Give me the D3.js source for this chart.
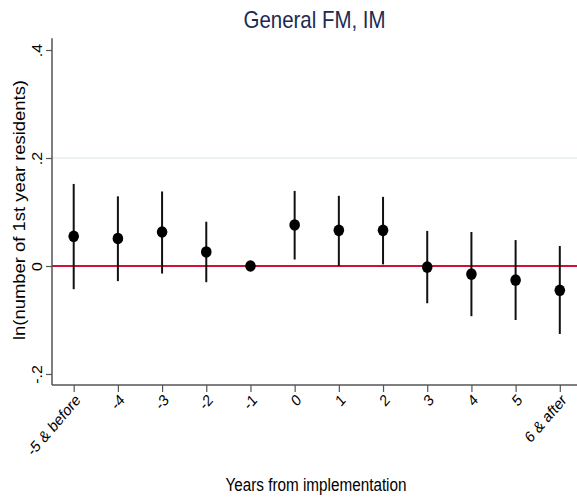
<!DOCTYPE html>
<html><head><meta charset="utf-8">
<script src="https://cdn.jsdelivr.net/npm/d3@7"></script>
<style>body{margin:0;background:#fff}svg{display:block}text{font-family:"Liberation Sans",Arial,sans-serif}</style>
</head><body><svg id="c" width="577" height="499"></svg>
<script>
const categories = ["-5 & before","-4","-3","-2","-1","0","1","2","3","4","5","6 & after"];
const estimates = [0.055, 0.051, 0.063, 0.026, 0, 0.076, 0.066, 0.066, -0.002, -0.015, -0.026, -0.045];
const upper = [0.152, 0.129, 0.138, 0.082, null, 0.139, 0.130, 0.128, 0.065, 0.063, 0.048, 0.037];
const lower = [-0.043, -0.028, -0.014, -0.030, null, 0.012, 0.000, 0.003, -0.069, -0.093, -0.100, -0.126];
const yTicks = [-0.2, 0, 0.2, 0.4];
const yTickLabels = ["-.2", "0", ".2", ".4"];

const svg = d3.select("#c");
const pLeft = 52, pRight = 577, pTop = 38.3, pBottom = 385;
const x = d3.scalePoint().domain(categories).range([73.7, 559.8]);
const y = d3.scaleLinear().domain([-0.2204, 0.4217]).range([pBottom, pTop]);

// gridline at .2
svg.append("line").attr("x1", pLeft).attr("x2", pRight).attr("y1", y(0.2)).attr("y2", y(0.2))
  .attr("stroke", "#e6eef0").attr("stroke-width", 1.5);
// zero line
svg.append("line").attr("x1", pLeft).attr("x2", pRight).attr("y1", y(0)).attr("y2", y(0))
  .attr("stroke", "#d0103a").attr("stroke-width", 2);

// y axis
const yAxis = svg.append("g").attr("transform", `translate(${pLeft},0)`)
  .call(d3.axisLeft(y).tickValues(yTicks).tickSize(6).tickFormat((d,i)=>yTickLabels[i]));
yAxis.select(".domain").attr("stroke", "#555").attr("stroke-width", 1.5).attr("d", `M0,${pTop}V${pBottom}`);
yAxis.selectAll(".tick line").attr("stroke", "#555").attr("stroke-width", 1.2);
yAxis.selectAll(".tick text").attr("font-size", 16).attr("fill", "#000")
  .attr("x", 0).attr("dy", 0).attr("text-anchor", "middle")
  .attr("transform", "translate(-10,0) scale(0.9,1) rotate(-90)");

// x axis
const xAxis = svg.append("g").attr("transform", `translate(0,${pBottom})`)
  .call(d3.axisBottom(x).tickSize(7).tickFormat(d=>d));
xAxis.select(".domain").attr("stroke", "#555").attr("stroke-width", 1.5).attr("d", `M${pLeft},0H${pRight}`);
xAxis.selectAll(".tick line").attr("stroke", "#555").attr("stroke-width", 1.2);
xAxis.selectAll(".tick text").attr("font-size", 16).attr("fill", "#000")
  .attr("y", 0).attr("dy", 0).attr("text-anchor", "end")
  .attr("transform", "translate(7,16) scale(0.86,1) rotate(-45)");

// error bars
const data = categories.map((c,i)=>({c, e:estimates[i], u:upper[i], l:lower[i]}));
svg.append("g").selectAll("line").data(data.filter(d=>d.u!==null)).join("line")
  .attr("x1", d=>x(d.c)).attr("x2", d=>x(d.c))
  .attr("y1", d=>y(d.u)).attr("y2", d=>y(d.l))
  .attr("stroke", "#111").attr("stroke-width", 2);
svg.append("g").selectAll("ellipse").data(data).join("ellipse")
  .attr("cx", d=>x(d.c)).attr("cy", d=>y(d.e)).attr("rx", 5.3).attr("ry", 5.8)
  .attr("fill", "#000");

// titles
svg.append("text").attr("x", 314.5).attr("y", 28).attr("text-anchor", "middle")
  .attr("font-size", 24).attr("fill", "#1c2b52")
  .attr("textLength", 142).attr("lengthAdjust", "spacingAndGlyphs").text("General FM, IM");
svg.append("text").attr("x", 316).attr("y", 491).attr("text-anchor", "middle")
  .attr("font-size", 17.5).attr("fill", "#000")
  .attr("textLength", 181).attr("lengthAdjust", "spacingAndGlyphs").text("Years from implementation");
svg.append("text").attr("transform", "translate(25,210) rotate(-90)").attr("text-anchor", "middle")
  .attr("font-size", 17).attr("fill", "#000")
  .attr("textLength", 260).attr("lengthAdjust", "spacingAndGlyphs").text("ln(number of 1st year residents)");
</script></body></html>
